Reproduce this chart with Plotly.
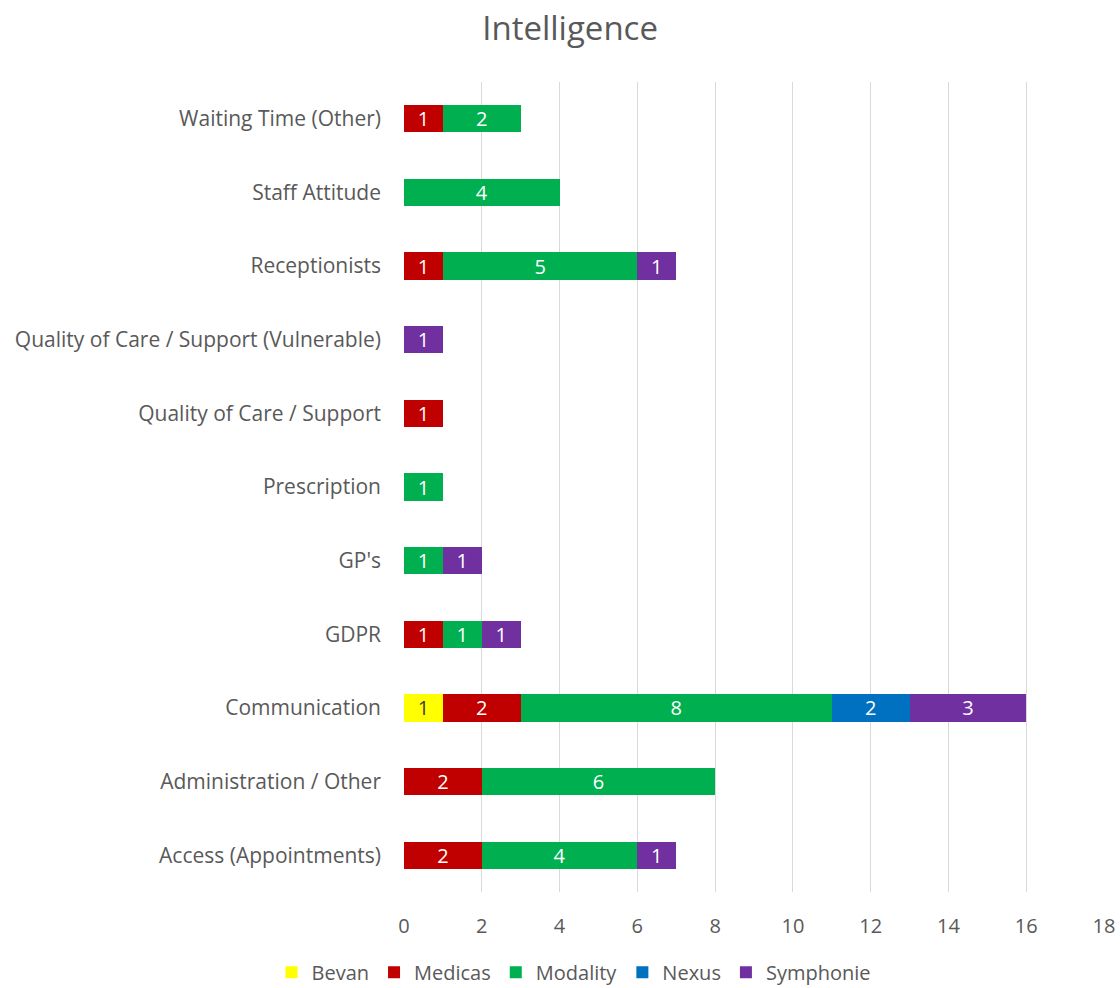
import plotly.graph_objects as go

categories = ["Access (Appointments)", "Administration / Other", "Communication", "GDPR", "GP's",
              "Prescription", "Quality of Care / Support", "Quality of Care / Support (Vulnerable)",
              "Receptionists", "Staff Attitude", "Waiting Time (Other)"]
bevan     = [None, None, 1, None, None, None, None, None, None, None, None]
medicas   = [2, 2, 2, 1, None, None, 1, None, 1, None, 1]
modality  = [4, 6, 8, 1, 1, 1, None, None, 5, 4, 2]
nexus     = [None, None, 2, None, None, None, None, None, None, None, None]
symphonie = [1, None, 3, 1, 1, None, None, 1, 1, None, None]
x_ticks = list(range(0, 19, 2))

series = [("Bevan", bevan, "#FFFF00", "#404040"),
          ("Medicas", medicas, "#C00000", "#FFFFFF"),
          ("Modality", modality, "#00B050", "#FFFFFF"),
          ("Nexus", nexus, "#0070C0", "#FFFFFF"),
          ("Symphonie", symphonie, "#7030A0", "#FFFFFF")]

FONT = "Open Sans, sans-serif"
fig = go.Figure()
for name, vals, color, tcolor in series:
    fig.add_trace(go.Bar(
        y=categories, x=vals, name=name, orientation="h",
        marker=dict(color=color, line=dict(width=0)),
        text=[("" if v is None else str(v)) for v in vals],
        textposition="inside", insidetextanchor="middle", textangle=0,
        constraintext="none",
        textfont=dict(color=tcolor, size=20, family=FONT),
        hoverinfo="x+y+name",
    ))

fig.update_layout(
    barmode="stack", bargap=0.63,
    width=1120, height=988,
    paper_bgcolor="white", plot_bgcolor="white",
    margin=dict(l=404, r=16, t=82, b=96, autoexpand=False),
    font=dict(family=FONT, color="#595959", size=20),
    title=dict(text="Intelligence", x=0.509, xref="container", xanchor="center",
               y=0.9717, yanchor="middle",
               font=dict(size=33, color="#595959", family=FONT)),
    xaxis=dict(range=[0, 18], tickvals=x_ticks, showgrid=True, gridcolor="#D9D9D9",
               gridwidth=1.3, zeroline=False, showline=False, ticks="",
               tickfont=dict(size=20, color="#595959"), ticklabelstandoff=20,
               automargin=False, fixedrange=True),
    yaxis=dict(categoryorder="array", categoryarray=categories, showgrid=False,
               zeroline=False, showline=False, ticks="", ticklabelstandoff=22,
               automargin=False,
               tickfont=dict(size=21, color="#595959")),
    legend=dict(orientation="h", xref="container", x=0.5125, xanchor="center",
                y=-0.099, yanchor="middle",
                font=dict(size=20, color="#595959"), traceorder="normal",
                itemwidth=30),
    showlegend=True,
)
fig.write_html("out.html", config={"displayModeBar": False},
               post_script="document.body.style.margin='0px';document.body.style.overflow='hidden';")
